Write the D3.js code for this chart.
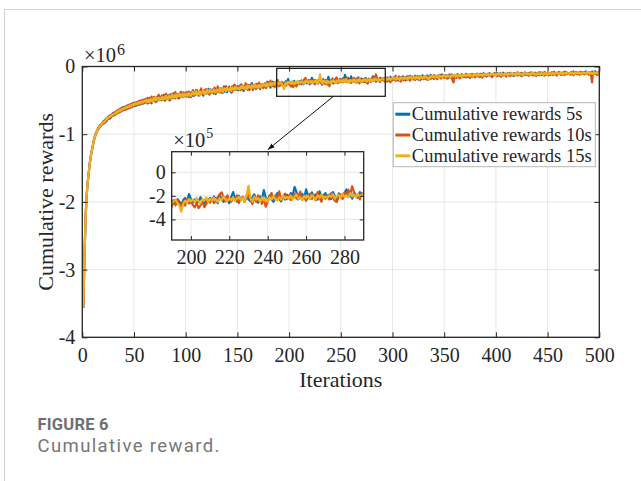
<!DOCTYPE html>
<html><head><meta charset="utf-8">
<script src="https://cdn.jsdelivr.net/npm/d3@7"></script>
<style>body{margin:0;background:#fff;} svg{display:block;}</style>
</head><body>
<svg id="chart" width="641" height="481"></svg>
<script>
// ---------------- DATA (rewards in units of 1e3) ----------------
const iterations = d3.range(1, 501);

const reward5s = [
-3560,-2880,-2320,-1970,-1730,-1620,-1440,-1370,-1250,-1200,
-1090,-1060,-985,-975,-915,-920,-870,-880,-835,-845,
-840,-790,-812,-785,-748,-730,-765,-742,-700,-690,
-680,-712,-660,-690,-640,-675,-622,-660,-605,-642,
-598,-635,-580,-622,-565,-612,-556,-600,-540,-585,
-535,-580,-528,-566,-510,-560,-505,-548,-492,-540,
-528,-485,-546,-513,-464,-517,-544,-479,-458,-509,
-476,-515,-436,-487,-498,-448,-496,-471,-421,-503,
-473,-427,-458,-502,-430,-410,-468,-453,-389,-471,
-439,-411,-470,-418,-452,-380,-440,-451,-403,-437,
-441,-399,-371,-427,-451,-379,-409,-433,-381,-347,
-411,-393,-429,-357,-397,-377,-431,-357,-343,-401,
-383,-331,-405,-381,-347,-385,-329,-370,-406,-342,
-314,-378,-355,-325,-385,-361,-293,-372,-332,-380,
-318,-306,-345,-385,-293,-333,-349,-280,-340,-318,
-352,-307,-273,-334,-318,-362,-281,-323,-268,-330,
-298,-345,-279,-244,-326,-306,-269,-331,-292,-256,
-304,-333,-267,-276,-304,-265,-310,-276,-225,-288,
-246,-311,-266,-224,-267,-244,-288,-219,-260,-270,
-238,-262,-228,-250,-274,-236,-218,-252,-185,-226,
-258,-230,-268,-244,-212,-246,-270,-228,-250,-218,
-240,-205,-232,-262,-196,-228,-250,-214,-238,-262,
-208,-168,-226,-248,-200,-236,-214,-252,-198,-230,
-246,-212,-188,-236,-258,-204,-228,-152,-216,-240,
-196,-232,-250,-208,-178,-224,-246,-200,-232,-190,
-222,-176,-198,-124,-168,-230,-206,-184,-218,-145,
-198,-226,-170,-214,-188,-232,-162,-204,-220,-176,
-212,-190,-228,-168,-206,-234,-180,-198,-222,-178,
-146,-210,-186,-224,-172,-200,-216,-168,-194,-182,
-176,-210,-168,-198,-222,-172,-190,-150,-200,-184,
-164,-196,-140,-186,-170,-208,-152,-178,-196,-146,
-182,-160,-204,-148,-176,-192,-138,-170,-188,-156,
-172,-136,-180,-162,-194,-142,-168,-184,-130,-160,
-176,-148,-190,-136,-158,-172,-124,-166,-150,-182,
-134,-160,-146,-178,-128,-152,-170,-118,-156,-140,
-164,-126,-148,-172,-132,-150,-116,-158,-142,-124,
-160,-134,-112,-150,-138,-166,-120,-144,-128,-154,
-108,-140,-156,-124,-136,-112,-150,-130,-118,-146,
-126,-104,-140,-122,-150,-114,-132,-98,-136,-120,
-142,-110,-128,-100,-134,-118,-146,-106,-124,-112,
-96,-130,-116,-140,-104,-122,-92,-128,-114,-136,
-100,-118,-134,-94,-124,-108,-142,-98,-116,-126,
-88,-120,-106,-132,-96,-114,-124,-90,-118,-104,
-130,-94,-112,-86,-120,-106,-128,-92,-110,-98,
-122,-84,-108,-126,-96,-112,-80,-118,-102,-90,
-116,-98,-124,-86,-106,-78,-112,-94,-120,-100,
-82,-110,-96,-118,-88,-104,-76,-114,-92,-108,
-98,-120,-84,-102,-74,-110,-96,-86,-116,-90,
-104,-78,-112,-94,-82,-108,-72,-100,-90,-114,
-86,-98,-76,-106,-88,-70,-102,-92,-80,-96
];

const reward10s = [
-3560,-2910,-2290,-1940,-1760,-1590,-1470,-1330,-1270,-1170,
-1120,-1035,-1010,-950,-940,-890,-895,-855,-860,-820,
-800,-830,-770,-795,-740,-775,-720,-748,-700,-728,
-718,-670,-702,-648,-684,-628,-668,-612,-652,-598,
-640,-588,-630,-570,-618,-560,-606,-545,-592,-535,
-582,-530,-572,-515,-565,-505,-556,-498,-548,-488,
-482,-521,-462,-523,-536,-481,-444,-515,-496,-449,
-526,-459,-486,-417,-488,-492,-426,-477,-497,-429,
-401,-475,-444,-418,-496,-456,-402,-467,-423,-377,
-465,-439,-406,-466,-374,-436,-450,-383,-421,-395,
-377,-429,-451,-381,-395,-435,-347,-405,-421,-377,
-349,-427,-381,-407,-323,-397,-409,-347,-381,-335,
-395,-357,-415,-339,-359,-345,-401,-312,-372,-382,
-294,-360,-383,-327,-341,-389,-309,-358,-288,-358,
-342,-296,-361,-317,-379,-303,-269,-346,-332,-290,
-294,-333,-353,-264,-320,-290,-337,-247,-318,-346,
-272,-293,-321,-258,-350,-278,-297,-257,-316,-276,
-238,-317,-289,-260,-320,-295,-246,-318,-259,-230,
-288,-207,-270,-290,-233,-306,-232,-253,-200,-292,
-252,-280,-236,-268,-290,-248,-282,-230,-264,-250,
-276,-298,-262,-304,-280,-246,-296,-270,-230,-258,
-226,-262,-240,-210,-186,-170,-212,-248,-196,-232,
-250,-214,-236,-196,-262,-228,-206,-244,-216,-190,
-232,-270,-214,-250,-196,-238,-268,-228,-292,-246,
-210,-176,-232,-198,-220,-162,-238,-206,-182,-228,
-196,-236,-210,-180,-224,-198,-164,-232,-206,-242,
-214,-182,-226,-196,-238,-168,-214,-250,-190,-224,
-196,-230,-178,-214,-244,-252,-206,-188,-226,-170,
-200,-148,-186,-118,-172,-208,-190,-230,-176,-200,
-204,-176,-226,-188,-160,-212,-196,-234,-178,-200,
-190,-158,-214,-176,-200,-148,-186,-222,-164,-180,
-206,-154,-176,-196,-142,-184,-210,-162,-148,-190,
-158,-200,-174,-140,-186,-166,-204,-150,-172,-188,
-146,-178,-134,-196,-162,-150,-184,-140,-170,-128,
-172,-150,-188,-136,-162,-124,-178,-154,-138,-166,
-126,-156,-180,-140,-118,-164,-146,-200,-236,-152,
-132,-168,-122,-150,-176,-136,-112,-158,-142,-128,
-162,-118,-146,-134,-170,-124,-108,-150,-138,-160,
-112,-144,-126,-156,-104,-138,-164,-120,-132,-108,
-150,-128,-104,-140,-118,-156,-112,-132,-96,-126,
-144,-110,-132,-100,-152,-118,-134,-104,-126,-148,
-108,-130,-96,-142,-116,-122,-102,-136,-112,-94,
-134,-112,-126,-98,-144,-108,-120,-92,-130,-116,
-100,-138,-110,-124,-94,-132,-102,-118,-140,-106,
-96,-128,-112,-88,-124,-104,-136,-92,-116,-108,
-130,-94,-112,-100,-126,-90,-118,-104,-134,-96,
-110,-86,-122,-100,-92,-128,-106,-84,-116,-102,
-94,-118,-88,-108,-130,-96,-80,-112,-100,-90,
-122,-98,-84,-110,-94,-116,-88,-104,-92,-120,
-100,-136,-235,-96,-78,-110,-90,-128,-84,-104
];

const reward15s = [
-3550,-2890,-2310,-1960,-1745,-1605,-1455,-1355,-1255,-1185,
-1105,-1055,-995,-965,-925,-910,-880,-870,-842,-830,
-825,-805,-780,-778,-755,-752,-732,-730,-712,-708,
-700,-684,-690,-662,-668,-645,-655,-630,-636,-615,
-620,-605,-612,-590,-600,-575,-590,-565,-575,-548,
-560,-545,-555,-532,-548,-522,-538,-515,-528,-505,
-518,-495,-526,-495,-524,-479,-498,-521,-466,-497,
-454,-495,-478,-461,-490,-478,-450,-491,-455,-477,
-433,-467,-488,-436,-444,-468,-414,-449,-455,-417,
-461,-421,-436,-400,-446,-428,-404,-451,-409,-429,
-405,-433,-391,-419,-435,-399,-375,-415,-403,-361,
-417,-401,-373,-425,-373,-385,-359,-407,-367,-393,
-343,-385,-373,-347,-391,-375,-339,-366,-384,-340,
-358,-372,-323,-363,-337,-377,-325,-336,-362,-312,
-344,-350,-319,-361,-309,-329,-343,-300,-332,-312,
-326,-341,-299,-318,-284,-328,-319,-295,-336,-282,
-308,-293,-325,-280,-310,-296,-263,-311,-284,-304,
-272,-309,-279,-294,-260,-271,-288,-250,-297,-262,
-274,-243,-282,-244,-259,-266,-222,-257,-234,-260,
-246,-230,-262,-282,-335,-270,-240,-258,-226,-244,
-232,-256,-218,-246,-262,-228,-240,-214,-252,-226,
-240,-216,-234,-252,-220,-238,-206,-230,-244,-218,
-236,-212,-244,-224,-208,-238,-216,-250,-196,-114,
-220,-248,-206,-232,-218,-252,-212,-238,-224,-246,
-214,-230,-204,-226,-242,-210,-232,-198,-222,-208,
-224,-196,-230,-210,-188,-226,-212,-236,-200,-218,
-202,-226,-192,-214,-230,-196,-216,-188,-222,-206,
-218,-196,-210,-186,-224,-204,-192,-216,-182,-210,
-196,-212,-178,-204,-190,-214,-186,-206,-192,-188,
-186,-198,-174,-206,-180,-192,-168,-196,-184,-172,
-180,-170,-192,-158,-184,-174,-196,-162,-178,-168,
-186,-156,-172,-190,-160,-178,-150,-170,-184,-154,
-166,-180,-148,-172,-158,-186,-146,-164,-176,-150,
-168,-142,-160,-176,-200,-150,-164,-136,-158,-146,
-162,-140,-154,-170,-132,-150,-144,-160,-130,-146,
-138,-156,-126,-148,-142,-160,-130,-144,-136,-122,
-150,-132,-146,-118,-140,-128,-152,-124,-138,-116,
-142,-126,-134,-112,-140,-122,-130,-144,-114,-128,
-120,-136,-108,-130,-118,-126,-140,-110,-124,-116,
-128,-104,-122,-134,-112,-120,-102,-126,-116,-130,
-110,-122,-100,-118,-130,-106,-116,-124,-98,-114,
-126,-104,-118,-110,-98,-122,-112,-106,-128,-100,
-114,-96,-120,-108,-116,-126,-94,-112,-104,-118,
-100,-114,-124,-96,-108,-90,-116,-104,-122,-98,
-110,-102,-118,-94,-112,-120,-92,-106,-98,-114,
-96,-108,-100,-118,-90,-104,-112,-96,-86,-110,
-102,-94,-108,-90,-114,-96,-100,-88,-106,-98,
-108,-90,-100,-94,-112,-84,-102,-96,-88,-106,
-92,-100,-110,-86,-98,-94,-104,-82,-100,-92,
-106,-88,-96,-112,-84,-100,-94,-78,-102,-90
];

const seriesNames = ["Cumulative rewards 5s", "Cumulative rewards 10s", "Cumulative rewards 15s"];
const seriesColors = ["#0072BD", "#D95319", "#EDB120"];

const xTicks = [0, 50, 100, 150, 200, 250, 300, 350, 400, 450, 500];
const yTicks = [0, -1, -2, -3, -4];           // x 1e6
const insetXTicks = [200, 220, 240, 260, 280];
const insetYTicks = [0, -2, -4];              // x 1e5
const xDomain = [0, 500];
const yDomain = [-4, 0];                      // x 1e6
const insetXDomain = [190, 290];
const insetYDomain = [-5.75, 1.75];           // x 1e5
const zoomBoxX = [188, 293];
const zoomBoxY = [-440, -27];                 // x 1e3
const arrowFromX = 243, arrowToX = 240;

// ---------------- LAYOUT ----------------
const svg = d3.select("#chart");
const SERIF = "'Liberation Serif','Times New Roman',Times,serif";
const SANS = "Roboto,'Open Sans',sans-serif";
const AX = "#262626";

svg.append("rect").attr("width", 641).attr("height", 481).attr("fill", "#fff");
svg.append("path").attr("d", "M4.5,481V9.5H641").attr("fill", "none").attr("stroke", "#d4d4d4").attr("stroke-width", 1.2);

const P = {left: 82.3, right: 599.3, top: 66.5, bottom: 337.3};
const x = d3.scaleLinear().domain(xDomain).range([P.left, P.right]);
const y = d3.scaleLinear().domain(yDomain.map(v => v * 1000)).range([P.bottom, P.top]); // values in 1e3

const series = seriesNames.map((name, k) => ({
  name, color: seriesColors[k],
  values: [reward5s, reward10s, reward15s][k].map((v, i) => ({it: iterations[i], v}))
}));

// grid
const grid = svg.append("g").attr("stroke", "#e6e6e6").attr("stroke-width", 1);
xTicks.forEach(t => grid.append("line").attr("x1", x(t)).attr("x2", x(t)).attr("y1", P.top).attr("y2", P.bottom));
yTicks.forEach(t => grid.append("line").attr("x1", P.left).attr("x2", P.right).attr("y1", y(t * 1000)).attr("y2", y(t * 1000)));

// clip + lines
const defs = svg.append("defs");
defs.append("clipPath").attr("id", "clipMain").append("rect")
  .attr("x", P.left).attr("y", P.top).attr("width", P.right - P.left).attr("height", P.bottom - P.top);
const line = d3.line().x(d => x(d.it)).y(d => y(d.v));
const gLines = svg.append("g").attr("clip-path", "url(#clipMain)");
series.forEach(s => gLines.append("path").attr("d", line(s.values)).attr("fill", "none")
  .attr("stroke", s.color).attr("stroke-width", 2.2).attr("stroke-linejoin", "round"));

// axes
function styleAxis(g, fs) {
  g.select(".domain").remove();
  g.attr("font-family", SERIF).attr("font-size", fs);
  g.selectAll(".tick line").attr("stroke", AX).attr("stroke-width", 1);
  g.selectAll(".tick text").attr("fill", AX);
}
svg.append("g").attr("transform", `translate(0,${P.bottom})`)
  .call(d3.axisBottom(x).tickValues(xTicks).tickSize(-5).tickPadding(11).tickFormat(d => String(d)))
  .call(g => styleAxis(g, 20));
svg.append("g").attr("transform", `translate(0,${P.top})`)
  .call(d3.axisTop(x).tickValues(xTicks).tickSize(-5).tickFormat(""))
  .call(g => styleAxis(g, 20));
svg.append("g").attr("transform", `translate(${P.left},0)`)
  .call(d3.axisLeft(y).tickValues(yTicks.map(t => t * 1000)).tickSize(-5).tickPadding(7).tickFormat(d => String(d / 1000)))
  .call(g => styleAxis(g, 20));
svg.append("g").attr("transform", `translate(${P.right},0)`)
  .call(d3.axisRight(y).tickValues(yTicks.map(t => t * 1000)).tickSize(-5).tickFormat(""))
  .call(g => styleAxis(g, 20));
svg.append("rect").attr("x", P.left).attr("y", P.top).attr("width", P.right - P.left).attr("height", P.bottom - P.top)
  .attr("fill", "none").attr("stroke", AX).attr("stroke-width", 1.3);

// exponent label
const e6 = svg.append("text").attr("x", 84).attr("y", 61.7).attr("font-family", SERIF).attr("font-size", 20.5).attr("fill", AX).text("\u00d710");
e6.append("tspan").attr("dx", 1).attr("dy", -7).attr("font-size", 16).text("6");

// axis titles
svg.append("text").attr("x", (P.left + P.right) / 2).attr("y", 386.5).attr("text-anchor", "middle")
  .attr("font-family", SERIF).attr("font-size", 22).attr("fill", AX).text("Iterations");
svg.append("text").attr("transform", `translate(53,${(P.top + P.bottom) / 2}) rotate(-90)`).attr("text-anchor", "middle")
  .attr("font-family", SERIF).attr("font-size", 22).attr("fill", AX).text("Cumulative rewards");

// zoom box
svg.append("rect").attr("x", x(zoomBoxX[0])).attr("y", y(zoomBoxY[1]))
  .attr("width", x(zoomBoxX[1]) - x(zoomBoxX[0])).attr("height", y(zoomBoxY[0]) - y(zoomBoxY[1]))
  .attr("fill", "none").attr("stroke", "#111").attr("stroke-width", 1.2);

// legend
const L = {x: 393.3, y: 102.7, w: 202, h: 64, row: 20.8};
svg.append("rect").attr("x", L.x).attr("y", L.y).attr("width", L.w).attr("height", L.h)
  .attr("fill", "#fff").attr("stroke", "#b8b8b8").attr("stroke-width", 1);
series.forEach((s, k) => {
  const cy = L.y + 11.5 + k * L.row;
  svg.append("line").attr("x1", L.x + 2).attr("x2", L.x + 17).attr("y1", cy).attr("y2", cy)
    .attr("stroke", s.color).attr("stroke-width", 3);
  svg.append("text").attr("x", L.x + 18.5).attr("y", cy + 6).attr("font-family", SERIF).attr("font-size", 18.5)
    .attr("fill", AX).text(s.name);
});

// inset
const I = {left: 171.7, right: 363.7, top: 151.7, bottom: 240};
const ix = d3.scaleLinear().domain(insetXDomain).range([I.left, I.right]);
const iy = d3.scaleLinear().domain(insetYDomain.map(v => v * 100)).range([I.bottom, I.top]); // 1e3 units
svg.append("rect").attr("x", I.left).attr("y", I.top).attr("width", I.right - I.left).attr("height", I.bottom - I.top).attr("fill", "#fff");
const ig = svg.append("g").attr("stroke", "#e6e6e6").attr("stroke-width", 1);
insetXTicks.forEach(t => ig.append("line").attr("x1", ix(t)).attr("x2", ix(t)).attr("y1", I.top).attr("y2", I.bottom));
insetYTicks.forEach(t => ig.append("line").attr("x1", I.left).attr("x2", I.right).attr("y1", iy(t * 100)).attr("y2", iy(t * 100)));
defs.append("clipPath").attr("id", "clipInset").append("rect")
  .attr("x", I.left).attr("y", I.top).attr("width", I.right - I.left).attr("height", I.bottom - I.top);
const iline = d3.line().x(d => ix(d.it)).y(d => iy(d.v));
const giLines = svg.append("g").attr("clip-path", "url(#clipInset)");
series.forEach(s => giLines.append("path")
  .attr("d", iline(s.values.filter(d => d.it >= insetXDomain[0] - 1 && d.it <= insetXDomain[1] + 1)))
  .attr("fill", "none").attr("stroke", s.color).attr("stroke-width", 2.2).attr("stroke-linejoin", "round"));
svg.append("g").attr("transform", `translate(0,${I.bottom})`)
  .call(d3.axisBottom(ix).tickValues(insetXTicks).tickSize(-4).tickPadding(10).tickFormat(d => String(d)))
  .call(g => styleAxis(g, 20));
svg.append("g").attr("transform", `translate(0,${I.top})`)
  .call(d3.axisTop(ix).tickValues(insetXTicks).tickSize(-4).tickFormat(""))
  .call(g => styleAxis(g, 20));
svg.append("g").attr("transform", `translate(${I.left},0)`)
  .call(d3.axisLeft(iy).tickValues(insetYTicks.map(t => t * 100)).tickSize(-4).tickPadding(6).tickFormat(d => String(d / 100)))
  .call(g => styleAxis(g, 20));
svg.append("g").attr("transform", `translate(${I.right},0)`)
  .call(d3.axisRight(iy).tickValues(insetYTicks.map(t => t * 100)).tickSize(-4).tickFormat(""))
  .call(g => styleAxis(g, 20));
svg.append("rect").attr("x", I.left).attr("y", I.top).attr("width", I.right - I.left).attr("height", I.bottom - I.top)
  .attr("fill", "none").attr("stroke", AX).attr("stroke-width", 1.3);
const e5 = svg.append("text").attr("x", 173.3).attr("y", 146.7).attr("font-family", SERIF).attr("font-size", 20.5).attr("fill", AX).text("\u00d710");
e5.append("tspan").attr("dx", 1).attr("dy", -8.4).attr("font-size", 14).text("5");

// arrow
defs.append("marker").attr("id", "arrowHead").attr("viewBox", "0 0 10 10").attr("refX", 10).attr("refY", 5)
  .attr("markerWidth", 7).attr("markerHeight", 7).attr("orient", "auto-start-reverse").attr("markerUnits", "userSpaceOnUse")
  .append("path").attr("d", "M0,1.5L10,5L0,8.5Z").attr("fill", "#111");
svg.append("line").attr("x1", x(arrowFromX)).attr("y1", y(zoomBoxY[0])).attr("x2", ix(arrowToX)).attr("y2", I.top - 2)
  .attr("stroke", "#111").attr("stroke-width", 1).attr("marker-end", "url(#arrowHead)");

// caption
svg.append("text").attr("x", 37.5).attr("y", 430).attr("font-family", SANS).attr("font-weight", 700)
  .attr("font-size", 16.5).attr("textLength", 71).attr("lengthAdjust", "spacing")
  .attr("fill", "#6f6f6f").text("FIGURE 6");
svg.append("text").attr("x", 37.5).attr("y", 451.5).attr("font-family", SANS)
  .attr("font-size", 18.5).attr("textLength", 182).attr("lengthAdjust", "spacing")
  .attr("fill", "#777").text("Cumulative reward.");
</script>
</body></html>
